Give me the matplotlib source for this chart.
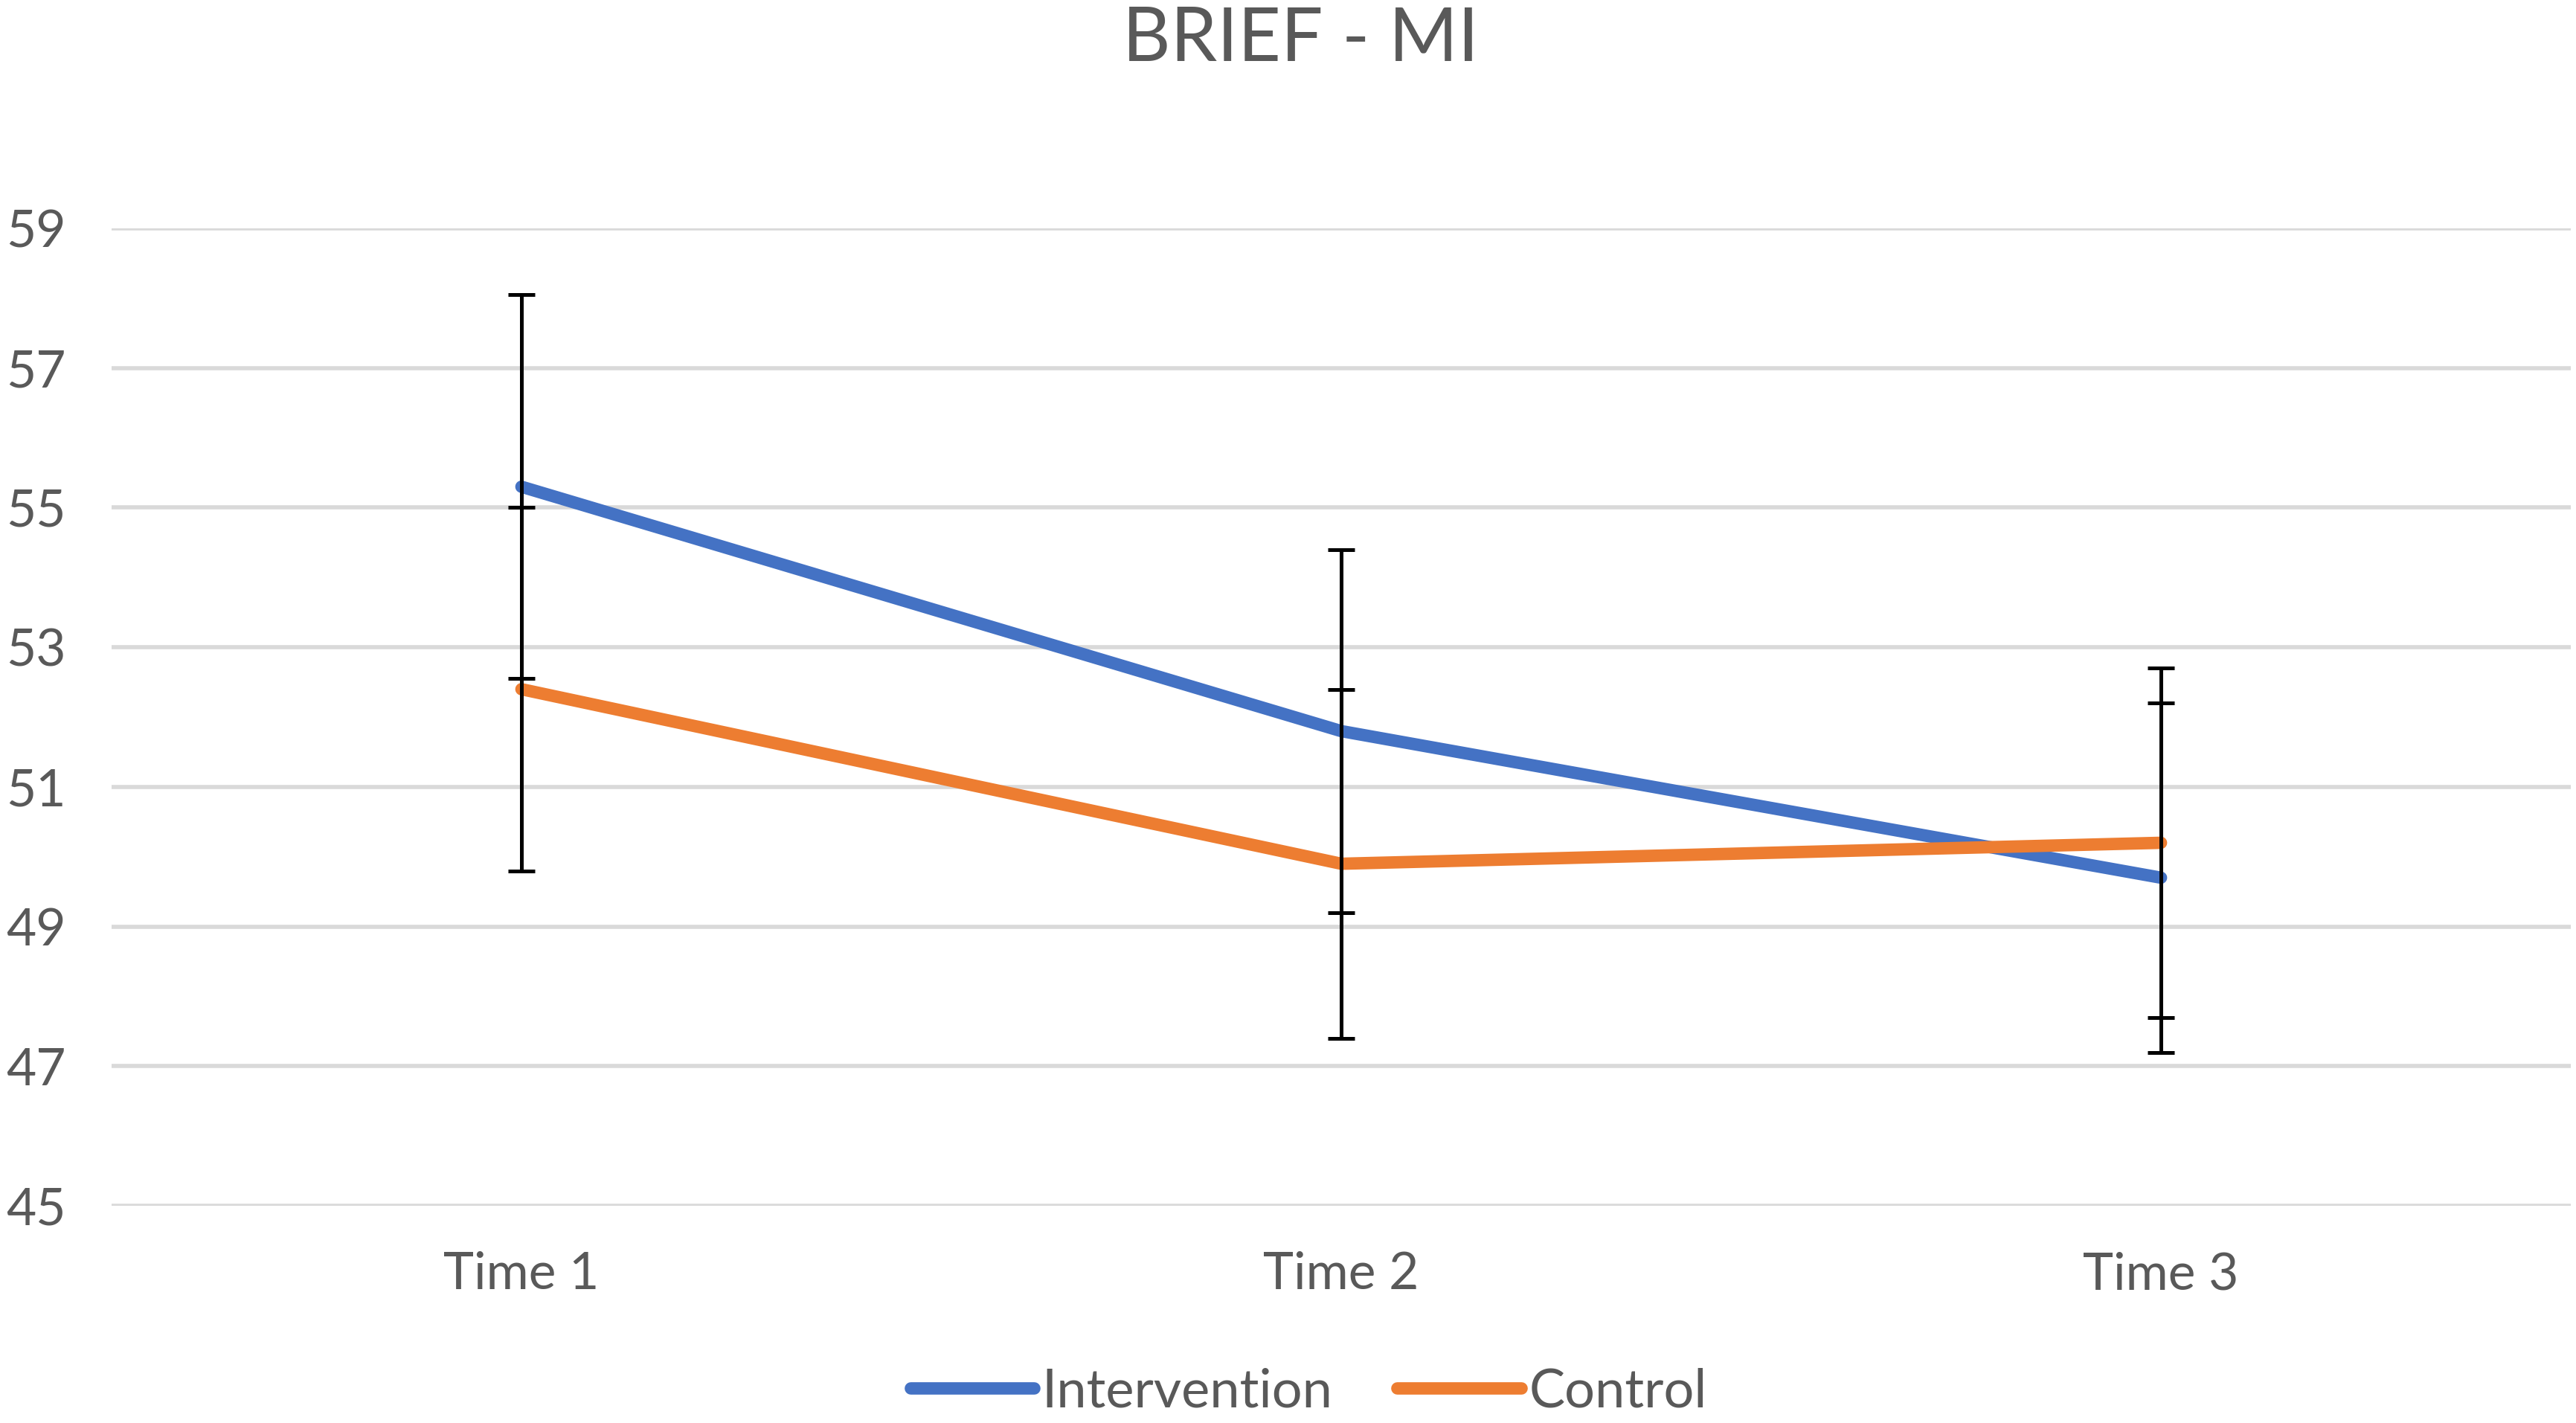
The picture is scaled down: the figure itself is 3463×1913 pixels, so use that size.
import matplotlib
matplotlib.use("Agg")
import matplotlib.pyplot as plt
import numpy as np

BLUE = "#4472C4"
ORANGE = "#ED7D31"
GRAY = "#595959"
GRID = "#D9D9D9"

plt.rcParams.update({"font.family": ["Lato", "DejaVu Sans"]})

times = ["Time 1", "Time 2", "Time 3"]
intervention = [55.3, 51.8, 49.7]
intervention_err = [2.75, 2.6, 2.5]
control = [52.4, 49.9, 50.2]
control_err = [2.6, 2.5, 2.5]
yticks = [45, 47, 49, 51, 53, 55, 57, 59]

fig = plt.figure(figsize=(3463 / 200, 1913 / 200), dpi=200)
ax = fig.add_axes([0.0433, 0.1526, 0.9547, 0.6869])

x = np.arange(len(times))
ax.plot(x, intervention, color=BLUE, lw=6, solid_capstyle="round",
        solid_joinstyle="round", label="Intervention", zorder=3)
ax.plot(x, control, color=ORANGE, lw=6, solid_capstyle="round",
        solid_joinstyle="round", label="Control", zorder=3)
ax.errorbar(x, intervention, yerr=intervention_err, fmt="none", ecolor="black",
            elinewidth=1.8, capsize=6.5, capthick=1.8, zorder=4)
ax.errorbar(x, control, yerr=control_err, fmt="none", ecolor="black",
            elinewidth=1.8, capsize=6.5, capthick=1.8, zorder=4)

ax.set_xlim(-0.5, 2.5)
ax.set_ylim(45, 59)
ax.set_yticks(yticks)
ax.set_xticks(x, times)
ax.yaxis.grid(True, color=GRID, lw=2)
ax.set_axisbelow(True)
for s in ax.spines.values():
    s.set_visible(False)
ax.tick_params(axis="both", length=0, labelsize=25, colors=GRAY)
ax.tick_params(axis="y", pad=22)
ax.tick_params(axis="x", pad=22)

fig.text(0.505, 0.972, "BRIEF - MI", ha="center", va="center",
         fontsize=36, color=GRAY)

leg = fig.legend(loc="center", bbox_to_anchor=(0.508, 0.022), ncol=2,
                 frameon=False, fontsize=26, handlelength=2.3,
                 handletextpad=0.15, columnspacing=1.2, borderpad=0.1)
for t in leg.get_texts():
    t.set_color(GRAY)
for h in leg.get_lines():
    h.set_linewidth(6)
    h.set_solid_capstyle("round")

fig.savefig("out.png", dpi=200)
